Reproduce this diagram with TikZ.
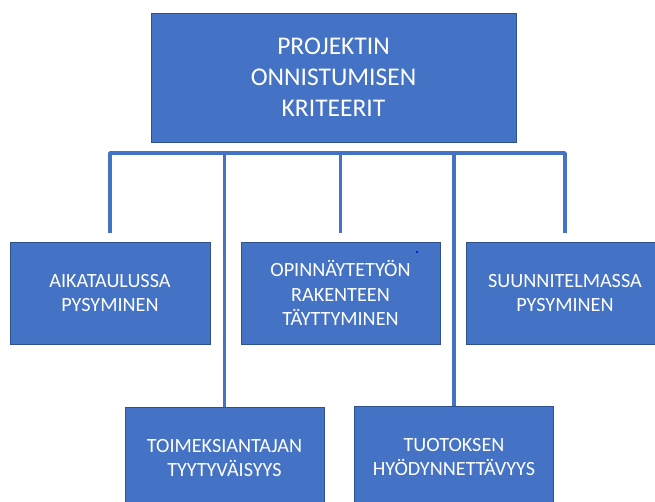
\documentclass[tikz,border=0pt]{standalone}
\usepackage{fontspec}
\setmainfont{Carlito}
\definecolor{boxfill}{HTML}{4472C4}
\definecolor{boxline}{HTML}{2F528F}
\tikzset{
  critbox/.style={draw=boxline,line width=0.8pt,fill=boxfill,text=white,
    align=center,inner sep=0pt,minimum width=199pt,minimum height=102pt,
    font=\fontsize{20.2}{24.5}\selectfont},
  conn/.style={draw=boxfill,line width=3.8pt,line join=round}
}
\begin{document}
\begin{tikzpicture}[x=1pt,y=-1pt]
  \useasboundingbox (0,0) rectangle (655,501);
  \clip (0,0) rectangle (655,501);
  % main box
  \node[critbox,minimum width=365pt,minimum height=129pt,
        font=\fontsize{25.5}{31}\selectfont] (main) at (333.5,77.5)
        {PROJEKTIN\\ONNISTUMISEN\\KRITEERIT};
  % first row
  \node[critbox,minimum width=200pt] (aika) at (110,293) {AIKATAULUSSA\\PYSYMINEN};
  \node[critbox] (opin) at (340.5,293) {OPINNÄYTETYÖN\\RAKENTEEN\\TÄYTTYMINEN};
  \node[critbox,minimum width=198pt] (suun) at (565,293) {SUUNNITELMASSA\\PYSYMINEN};
  % second row
  \node[critbox] (toim) at (224.5,458) {TOIMEKSIANTAJAN\\TYYTYVÄISYYS};
  \node[critbox] (tuot) at (454,457) {TUOTOKSEN\\HYÖDYNNETTÄVYYS};
  % connectors from the bus line
  \coordinate (bus) at (0,153);
  \draw[conn] ([yshift=9pt]aika.north) |- (bus -| suun.north) -- ([yshift=9pt]suun.north);
  \draw[conn] ([yshift=9pt]opin.north) -- (opin.north |- bus);
  \draw[conn] (toim.north) -- (toim.north |- bus);
  \draw[conn] (tuot.north) -- (tuot.north |- bus);
  % stray dot
  \fill[blue!80!black] (417,252) circle (1.1pt);
\end{tikzpicture}
\end{document}
